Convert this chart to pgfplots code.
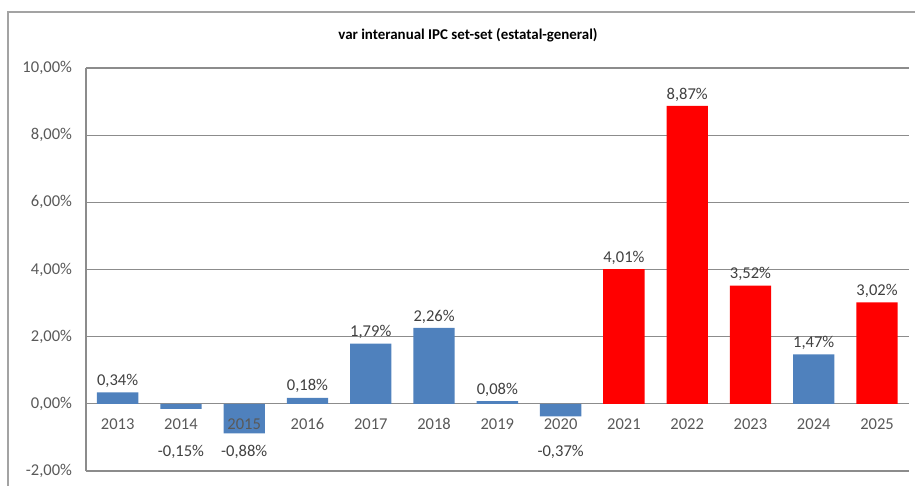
\documentclass[border=0pt]{standalone}
\usepackage{pgfplots}
\pgfplotsset{compat=1.18}
\usepackage{fontspec}
\setmainfont{Carlito}
\definecolor{barblue}{HTML}{4F81BD}
\definecolor{gridgray}{HTML}{8C8C8C}
\definecolor{ticktext}{HTML}{595959}
\definecolor{labeltext}{HTML}{404040}
\begin{document}
\begin{tikzpicture}[x=0.75pt,y=0.75pt]
\path[use as bounding box] (0,0) rectangle (915,486);
\draw[gridgray!80, line width=1pt] (8,0) -- (8,474) -- (915,474);
\node[font=\bfseries\fontsize{11.2}{13}\selectfont, text=black] at (468,451) {var interanual IPC set-set (estatal-general)};
\begin{axis}[
  at={(64.5pt,11.25pt)}, anchor=south west,
  scale only axis,
  width=617pt, height=302.25pt,
  xmin=-0.5, xmax=12.5,
  ymin=-2, ymax=10,
  axis x line=middle,
  axis y line=left,
  hide obscured x ticks=false,
  hide obscured y ticks=false,
  axis line style={gridgray, line width=0.9pt, -},
  major tick length=0pt,
  ymajorgrids,
  grid style={gridgray, line width=0.9pt},
  xtick=\empty,
  ytick={-2,0,2,4,6,8,10},
  yticklabels={{-2,00\%},{0,00\%},{2,00\%},{4,00\%},{6,00\%},{8,00\%},{10,00\%}},
  yticklabel style={font=\fontsize{12.4}{14}\selectfont, text=ticktext, xshift=-7pt},
  /pgf/number format/assume math mode=true,
  ybar, bar width=31pt,
  clip=false,
  nodes near coords={\pgfmathprintnumber[fixed,fixed zerofill,precision=2,use comma,assume math mode=true]{\pgfplotspointmeta}\%},
  every node near coord/.append style={font=\fontsize{12.4}{14}\selectfont, text=labeltext},
]
% blue positive
\addplot[fill=barblue, draw=none, bar shift=0pt] coordinates {
 (0,0.34) (3,0.18) (4,1.79) (5,2.26) (6,0.08) (11,1.47)};
% red
\addplot[fill=red, draw=none, bar shift=0pt] coordinates {
 (8,4.01) (9,8.87) (10,3.52) (12,3.02)};
% blue negative
\addplot[fill=barblue, draw=none, bar shift=0pt,
  visualization depends on={rawy \as \myy},
  every node near coord/.append style={anchor=center, yshift={(-1.43-\myy)*25.19pt}}]
 coordinates {(1,-0.15) (2,-0.88) (7,-0.37)};
% category labels (drawn above the bars)
\addplot[sharp plot, draw=none, mark=none, point meta=explicit symbolic,
  nodes near coords={\pgfplotspointmeta},
  every node near coord/.style={anchor=center, yshift=-15pt, font=\fontsize{12.4}{14}\selectfont, text=ticktext}]
 coordinates {(0,0)[2013] (1,0)[2014] (2,0)[2015] (3,0)[2016] (4,0)[2017] (5,0)[2018] (6,0)[2019]
   (7,0)[2020] (8,0)[2021] (9,0)[2022] (10,0)[2023] (11,0)[2024] (12,0)[2025]};
\end{axis}
\end{tikzpicture}
\end{document}
